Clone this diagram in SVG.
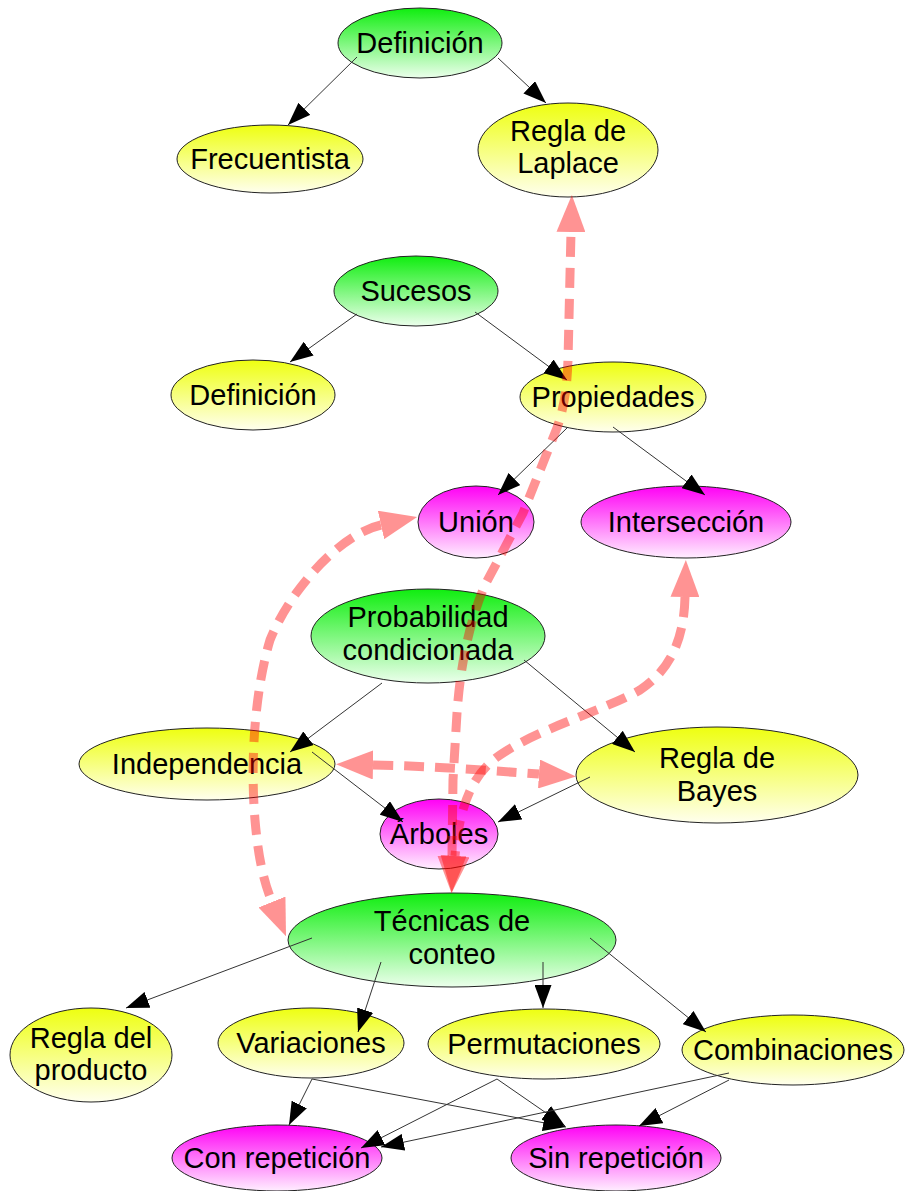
<svg xmlns="http://www.w3.org/2000/svg" width="906" height="1191" viewBox="0 0 906 1191">
<style>
.n ellipse{stroke:#222;stroke-width:1}
.g ellipse{fill:url(#gG)}
.y ellipse{fill:url(#gY)}
.m ellipse{fill:url(#gM)}
text{font-family:"Liberation Sans",Arial,Helvetica,sans-serif;font-size:29px;fill:#000;text-anchor:middle}
.e{stroke:#333;stroke-width:1;fill:none;marker-end:url(#ah)}
.x{opacity:0.42}
.x path{stroke:#ff0000;stroke-width:9;stroke-dasharray:20 11;fill:none;marker-start:url(#ph);marker-end:url(#ph)}
</style>
<defs>
<linearGradient id="gG" x1="0" y1="0" x2="0" y2="1"><stop offset="0" stop-color="#0fee0f"/><stop offset="1" stop-color="#ecffec"/></linearGradient>
<linearGradient id="gY" x1="0" y1="0" x2="0" y2="1"><stop offset="0" stop-color="#eeff10"/><stop offset="1" stop-color="#ffffee"/></linearGradient>
<linearGradient id="gM" x1="0" y1="0" x2="0" y2="1"><stop offset="0" stop-color="#ff00f5"/><stop offset="1" stop-color="#ffeeff"/></linearGradient>
<marker id="ah" markerUnits="userSpaceOnUse" viewBox="0 0 23 17" refX="23" refY="8.5" markerWidth="23" markerHeight="17" orient="auto"><path d="M0,0 L23,8.5 L0,17 z" fill="#000"/></marker>
<marker id="ph" markerUnits="userSpaceOnUse" viewBox="0 0 37 29" refX="0" refY="14.5" markerWidth="37" markerHeight="29" orient="auto-start-reverse"><path d="M0,0 L37,14.5 L0,29 z" fill="#ff0000"/></marker>
</defs>

<g id="n-definicion1" class="n g"><ellipse cx="420" cy="43" rx="82" ry="35"/><text x="420" y="53">Definición</text></g>
<g id="n-frecuentista" class="n y"><ellipse cx="270" cy="159" rx="93" ry="34"/><text x="270" y="169">Frecuentista</text></g>
<g id="n-laplace" class="n y"><ellipse cx="568" cy="150" rx="90" ry="47"/><text x="568" y="141">Regla de</text><text x="568" y="173">Laplace</text></g>
<g id="n-sucesos" class="n g"><ellipse cx="416" cy="291" rx="82" ry="35"/><text x="416" y="301">Sucesos</text></g>
<g id="n-definicion2" class="n y"><ellipse cx="253" cy="395" rx="82" ry="35"/><text x="253" y="405">Definición</text></g>
<g id="n-propiedades" class="n y"><ellipse cx="613" cy="397" rx="93" ry="35"/><text x="613" y="407">Propiedades</text></g>
<g id="n-union" class="n m"><ellipse cx="476" cy="522" rx="58" ry="36"/><text x="476" y="532">Unión</text></g>
<g id="n-interseccion" class="n m"><ellipse cx="686" cy="522" rx="105" ry="36"/><text x="686" y="532">Intersección</text></g>
<g id="n-probcond" class="n g"><ellipse cx="428" cy="636" rx="117" ry="47"/><text x="428" y="627">Probabilidad</text><text x="428" y="660">condicionada</text></g>
<g id="n-independencia" class="n y"><ellipse cx="207" cy="764" rx="128" ry="36"/><text x="207" y="774">Independencia</text></g>
<g id="n-bayes" class="n y"><ellipse cx="717" cy="775" rx="141" ry="48"/><text x="717" y="768">Regla de</text><text x="717" y="801">Bayes</text></g>
<g id="n-arboles" class="n m"><ellipse cx="439" cy="834" rx="59" ry="35"/><text x="439" y="844">Árboles</text></g>
<g id="n-tecnicas" class="n g"><ellipse cx="452" cy="940" rx="164" ry="47"/><text x="452" y="931">Técnicas de</text><text x="452" y="964">conteo</text></g>
<g id="n-producto" class="n y"><ellipse cx="91" cy="1055" rx="81" ry="47"/><text x="91" y="1048">Regla del</text><text x="91" y="1080">producto</text></g>
<g id="n-variaciones" class="n y"><ellipse cx="311" cy="1043" rx="93" ry="35"/><text x="311" y="1053">Variaciones</text></g>
<g id="n-permutaciones" class="n y"><ellipse cx="544" cy="1044" rx="116" ry="35"/><text x="544" y="1054">Permutaciones</text></g>
<g id="n-combinaciones" class="n y"><ellipse cx="793" cy="1050" rx="111" ry="35"/><text x="793" y="1060">Combinaciones</text></g>
<g id="n-conrep" class="n m"><ellipse cx="277" cy="1158" rx="105" ry="33"/><text x="277" y="1168">Con repetición</text></g>
<g id="n-sinrep" class="n m"><ellipse cx="616" cy="1158" rx="105" ry="33"/><text x="616" y="1168">Sin repetición</text></g>

<g id="connectors">
<path class="e" d="M357,57 L288,125"/>
<path class="e" d="M498,58 L546,103"/>
<path class="e" d="M357,314 L290,362"/>
<path class="e" d="M475,312 L567,380"/>
<path class="e" d="M567,428 L498,495"/>
<path class="e" d="M613,427 L705,495"/>
<path class="e" d="M382,683 L290,752"/>
<path class="e" d="M524,660 L635,752"/>
<path class="e" d="M312,752 L403,822"/>
<path class="e" d="M590,777 L498,822"/>
<path class="e" d="M312,938 L126,1008"/>
<path class="e" d="M381,962 L358,1032"/>
<path class="e" d="M543,962 L543,1008"/>
<path class="e" d="M590,938 L706,1032"/>
<path class="e" d="M312,1079 L289,1125"/>
<path class="e" d="M312,1079 L566,1127"/>
<path class="e" d="M497,1079 L361,1148"/>
<path class="e" d="M497,1079 L565,1126"/>
<path class="e" d="M729,1073 L381,1147"/>
<path class="e" d="M729,1080 L639,1126"/>
<g class="x"><path d="M452,856 L453,780 L457,713 C460,670 468,625 485,585 L523,513 L557,428 C565,405 567,385 568,360 L571,232"/></g>
<g class="x"><path d="M381,525 C340,534 290,590 270,640 C255,690 250,760 255,820 C258,855 263,880 272,902"/></g>
<g class="x"><path d="M373,765 C430,766 480,770 539,774"/></g>
<g class="x"><path d="M685,597 C684,640 670,670 640,690 C600,712 540,728 500,755 C475,772 460,800 455,856"/></g>
</g>
</svg>
